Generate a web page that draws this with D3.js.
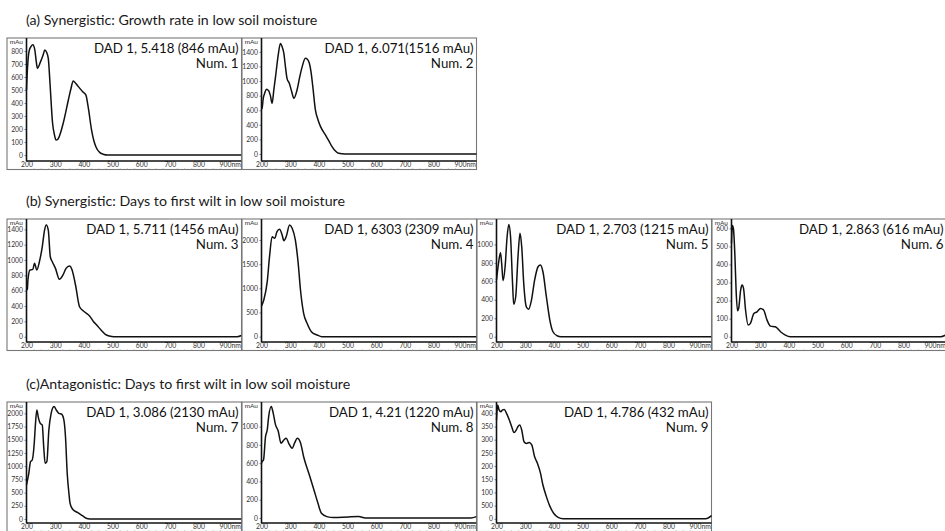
<!DOCTYPE html>
<html><head><meta charset="utf-8">
<script src="https://cdn.jsdelivr.net/npm/d3@7"></script>
<style>body{margin:0;background:#fff}svg{display:block}</style>
</head><body><svg id="chart" width="945" height="531"></svg>
<script>
// ---------- data ----------
const rowTitles = [
  "(a) Synergistic: Growth rate in low soil moisture",
  "(b) Synergistic: Days to first wilt in low soil moisture",
  "(c)Antagonistic: Days to first wilt in low soil moisture"
];
const peakLabels = [
  "DAD 1, 5.418 (846 mAu)", "DAD 1, 6.071(1516 mAu)",
  "DAD 1, 5.711 (1456 mAu)", "DAD 1, 6303 (2309 mAu)", "DAD 1, 2.703 (1215 mAu)", "DAD 1, 2.863 (616 mAu)",
  "DAD 1, 3.086 (2130 mAu)", "DAD 1, 4.21 (1220 mAu)", "DAD 1, 4.786 (432 mAu)"
];
const sampleLabels = ["Num. 1","Num. 2","Num. 3","Num. 4","Num. 5","Num. 6","Num. 7","Num. 8","Num. 9"];
const panelRow = [0,0,1,1,1,1,2,2,2];
const panelCol = [0,1,0,1,2,3,0,1,2];

const xDomain = [200, 950];
const xTicks = [200,300,400,500,600,700,800,900];
const xTickLabels = ["200","300","400","500","600","700","800","900nm"];

const yTicks = [
  [0,100,200,300,400,500,600,700,800],
  [0,200,400,600,800,1000,1200,1400],
  [0,200,400,600,800,1000,1200,1400],
  [0,500,1000,1500,2000],
  [0,200,400,600,800,1000],
  [0,100,200,300,400,500,600],
  [0,250,500,750,1000,1250,1500,1750,2000],
  [0,200,400,600,800,1000],
  [0,50,100,150,200,250,300,350,400]
];
const yTickLabels = [
  ["0","100","200","300","400","500","600","700","800"],
  ["0","200","400","600","800","1000","1200","1400"],
  ["0","200","400","600","800","1000","1200","1400"],
  ["0","500","1000","1500","2000"],
  ["0","200","400","600","800","1000"],
  ["0","100","200","300","400","500","600"],
  ["0","250","500","750","1000","1250","1500","1750","2000"],
  ["0","200","400","600","800","1000"],
  ["0","500","100","150","200","250","300","350","400"]
];
const yDomains = [
  [-46, 900], [-96, 1591],
  [-69, 1535], [-110, 2435], [-57, 1275], [-29, 652],
  [-76, 2215], [-55, 1270], [-16, 443]
];

// spectra: [wavelength nm, absorbance mAu]
const spectrum1 = [[200,500],[201,560],[205,720],[210,808],[216,835],[222,848],[229,808],[234,720],[238,667],[249,718],[258,770],[264,808],[270,790],[276,744],[282,551],[291,244],[298,150],[303,115],[308,118],[314,141],[328,244],[346,423],[355,510],[363,569],[372,550],[381,526],[396,487],[407,462],[415,372],[427,192],[435,110],[442,64],[456,18],[470,4],[481,0],[950,0]];
const spectrum2 = [[200,620],[202,627],[206,760],[211,832],[217,887],[225,869],[231,800],[237,695],[243,880],[249,1061],[258,1350],[266,1516],[272,1470],[278,1381],[284,1180],[289,1038],[297,970],[305,860],[313,764],[324,878],[333,1050],[342,1198],[353,1312],[360,1300],[367,1244],[373,1120],[379,923],[388,604],[397,470],[406,375],[423,261],[435,180],[446,100],[458,40],[469,10],[492,0],[950,0]];
const spectrum3 = [[200,609],[203,620],[205,739],[212,870],[222,878],[228,957],[236,870],[245,978],[255,1173],[263,1391],[269,1456],[276,1391],[283,1043],[290,978],[301,891],[315,748],[327,804],[338,891],[350,922],[359,870],[371,674],[385,391],[402,326],[420,270],[434,196],[445,152],[460,87],[475,31],[489,9],[505,0],[935,0],[950,15]];
const spectrum4 = [[200,635],[208,759],[220,1138],[228,1655],[237,2069],[246,2036],[254,2172],[263,2222],[272,2104],[278,1986],[286,2069],[298,2309],[307,2243],[318,2001],[328,1518],[336,966],[347,484],[359,277],[374,103],[394,35],[411,0],[950,0]];
const spectrum5 = [[200,614],[207,795],[214,910],[218,795],[223,607],[230,758],[237,1083],[243,1215],[249,1083],[256,578],[260,351],[267,433],[275,867],[282,1120],[288,975],[295,578],[304,325],[312,297],[322,397],[333,614],[345,758],[353,777],[362,704],[374,433],[386,181],[397,54],[411,11],[425,0],[950,0]];
const spectrum6 = [[200,517],[203,616],[207,595],[212,443],[216,259],[221,144],[225,157],[232,259],[237,286],[242,268],[249,148],[258,65],[266,74],[278,129],[289,138],[301,157],[312,148],[324,92],[336,59],[353,55],[371,28],[388,9],[405,0],[930,0],[950,12]];
const spectrum7 = [[200,644],[208,865],[214,1085],[220,1117],[227,1433],[231,1779],[236,2063],[242,1906],[248,1811],[255,1779],[260,1369],[265,1054],[271,1085],[278,1685],[286,2001],[296,2130],[304,2063],[313,2001],[322,1988],[330,1887],[336,1558],[342,865],[348,486],[352,297],[361,184],[379,120],[396,57],[414,6],[430,0],[950,0]];
const spectrum8 = [[200,600],[202,617],[207,635],[214,890],[220,964],[225,1110],[234,1220],[241,1146],[249,1019],[258,956],[268,818],[278,854],[286,873],[295,818],[307,763],[316,825],[325,873],[336,825],[347,671],[365,490],[383,307],[397,161],[409,51],[428,15],[452,4],[504,12],[539,15],[562,0],[930,0],[950,15]];
const spectrum9 = [[200,375],[204,432],[209,413],[215,406],[221,413],[227,415],[235,400],[244,377],[253,349],[261,327],[269,337],[275,350],[281,356],[288,337],[296,292],[304,286],[314,289],[323,280],[333,235],[343,210],[353,175],[362,128],[374,84],[386,48],[400,20],[415,5],[432,0],[930,0],[950,12]];
const spectra = [spectrum1,spectrum2,spectrum3,spectrum4,spectrum5,spectrum6,spectrum7,spectrum8,spectrum9];

// ---------- layout ----------
const FONT = "Lato, 'Open Sans', sans-serif";
const frameX = [7, 242, 477, 712];
const rowTop = [38, 219, 402];
const rowPlotH = [123, 123, 121];
const titleY = [24.5, 206, 389];
const axisOff = 19.5, plotW = 215, frameExtra = 8.5;

const svg = d3.select("#chart");

rowTitles.forEach((t, i) => {
  svg.append("text").attr("x", 26).attr("y", titleY[i])
    .attr("font-family", FONT).attr("font-size", 14.2).attr("fill", "#1a1a1a")
    .text(t);
});

spectra.forEach((data, i) => {
  const fx = frameX[panelCol[i]];
  const top = rowTop[panelRow[i]];
  const plotH = rowPlotH[panelRow[i]];
  const ax = fx + axisOff;
  const bottom = top + plotH;
  const g = svg.append("g");

  const x = d3.scaleLinear().domain(xDomain).range([ax, ax + plotW]);
  const y = d3.scaleLinear().domain(yDomains[i]).range([bottom, top]);

  // outer frame
  g.append("rect").attr("x", fx).attr("y", top).attr("width", ax + plotW - fx).attr("height", plotH + frameExtra)
    .attr("fill", "none").attr("stroke", "#777").attr("stroke-width", 1.1);

  // y axis ticks + labels
  const yAx = g.append("g").attr("transform", `translate(${ax},0)`)
    .call(d3.axisLeft(y).tickValues(yTicks[i]).tickFormat((d, j) => yTickLabels[i][j]).tickSize(2).tickPadding(1.5));
  yAx.select(".domain").remove();
  yAx.selectAll("line").attr("stroke", "#666").attr("stroke-width", 0.8);
  yAx.selectAll("text").attr("font-family", FONT).attr("font-size", 6.8).attr("fill", "#333");

  g.append("text").attr("x", ax - 3.5).attr("y", top + 5.5).attr("text-anchor", "end")
    .attr("font-family", FONT).attr("font-size", 6.5).attr("fill", "#333").text("mAu");

  // x axis labels
  const xAx = g.append("g").attr("transform", `translate(0,${bottom})`)
    .call(d3.axisBottom(x).tickValues(xTicks).tickFormat((d, j) => xTickLabels[j]).tickSize(0).tickPadding(1.5));
  xAx.select(".domain").remove();
  xAx.selectAll("text").attr("font-family", FONT).attr("font-size", 6.8).attr("fill", "#333")
    .attr("dx", (d, j) => j === xTicks.length - 1 ? 2.5 : 0);

  // minor ticks along frame bottom
  const mAx = g.append("g").attr("transform", `translate(0,${bottom + frameExtra})`)
    .call(d3.axisTop(x).tickValues(d3.range(225, 950, 25).filter(v => v % 100 !== 0)).tickSize(1.2).tickFormat(""));
  mAx.select(".domain").remove();
  mAx.selectAll("line").attr("stroke", "#999").attr("stroke-width", 0.6);

  // axis lines
  g.append("line").attr("x1", ax).attr("x2", ax + plotW).attr("y1", bottom).attr("y2", bottom)
    .attr("stroke", "#111").attr("stroke-width", 1.3);
  g.append("line").attr("x1", ax).attr("x2", ax).attr("y1", top).attr("y2", bottom)
    .attr("stroke", "#111").attr("stroke-width", 1.6);

  // spectrum line
  const line = d3.line().x(d => x(d[0])).y(d => y(d[1])).curve(d3.curveMonotoneX);
  g.append("path").datum(data).attr("d", line)
    .attr("fill", "none").attr("stroke", "#111").attr("stroke-width", 1.5).attr("stroke-linejoin", "round");

  // annotations
  g.append("text").attr("x", ax + plotW - 3).attr("y", top + 14.5).attr("text-anchor", "end")
    .attr("font-family", FONT).attr("font-size", 13.3).attr("fill", "#111").text(peakLabels[i]);
  g.append("text").attr("x", ax + plotW - 3).attr("y", top + 29.5).attr("text-anchor", "end")
    .attr("font-family", FONT).attr("font-size", 13.3).attr("fill", "#111").text(sampleLabels[i]);
});
</script>
</body></html>
